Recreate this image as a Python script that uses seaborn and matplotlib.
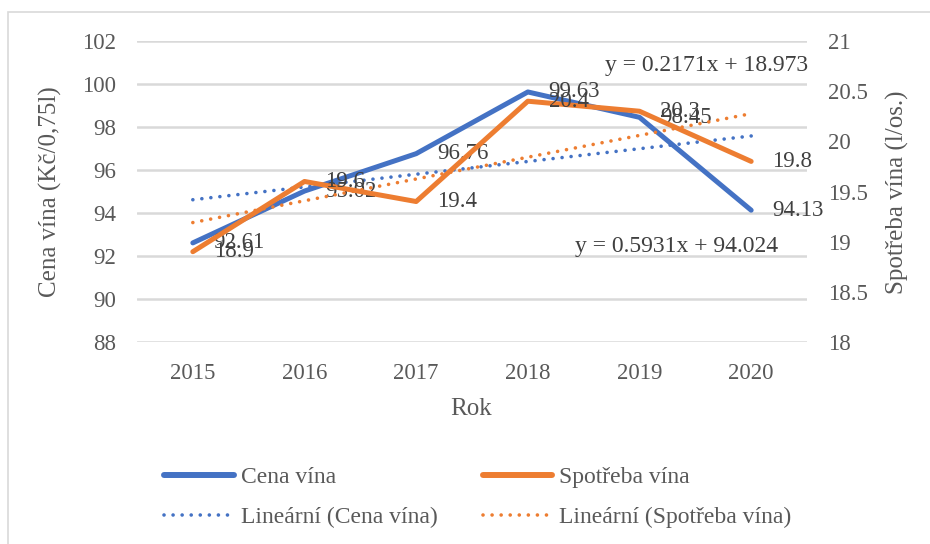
import numpy as np
import pandas as pd
import matplotlib
matplotlib.use("Agg")
import matplotlib.pyplot as plt
import seaborn as sns
from matplotlib.patches import Rectangle
from matplotlib.lines import Line2D

# ---- data ----
years = ["2015", "2016", "2017", "2018", "2019", "2020"]
cena = [92.61, 95.02, 96.76, 99.63, 98.45, 94.13]
spotreba = [18.9, 19.6, 19.4, 20.4, 20.3, 19.8]
cena_labels = ["92.61", "95.02", "96.76", "99.63", "98.45", "94.13"]
spotreba_labels = ["18.9", "19.6", "19.4", "20.4", "20.3", "19.8"]
left_ticks = [88, 90, 92, 94, 96, 98, 100, 102]
right_ticks = [18, 18.5, 19, 19.5, 20, 20.5, 21]
right_tick_labels = ["18", "18.5", "19", "19.5", "20", "20.5", "21"]

sns.set_theme(style="white")
plt.rcParams["font.family"] = ["Liberation Serif", "DejaVu Serif"]

BLUE = "#4472C4"
ORANGE = "#ED7D31"
TXT = "#595959"
GRID = "#D9D9D9"

x = np.arange(len(years))
df = pd.DataFrame({"x": x, "cena": cena, "spotreba": spotreba})

# linear trendlines (least squares, like Excel)
xs = x + 1
pc = np.polyfit(xs, cena, 1)
ps = np.polyfit(xs, spotreba, 1)
df["trend_c"] = np.polyval(pc, xs)
df["trend_s"] = np.polyval(ps, xs)

fig = plt.figure(figsize=(9.3, 5.44), dpi=100)
fig.patch.set_facecolor("white")
fig.patches.append(Rectangle((8 / 930, -0.01), 1.0, 1 - 12 / 544 + 0.01,
                             transform=fig.transFigure, fill=False,
                             edgecolor=GRID, lw=1.2, zorder=0))

ax = fig.add_axes([137 / 930, 1 - 342 / 544, 670 / 930, 301 / 544])
ax2 = ax.twinx()

dot = (0, (0.01, 2.5))
DLW = 2.6
sns.lineplot(data=df, x="x", y="cena", ax=ax, color=BLUE, lw=3.6,
             solid_capstyle="round", legend=False)
sns.lineplot(data=df, x="x", y="trend_c", ax=ax, color=BLUE, lw=DLW,
             linestyle=dot, dash_capstyle="round", legend=False)
sns.lineplot(data=df, x="x", y="spotreba", ax=ax2, color=ORANGE, lw=3.6,
             solid_capstyle="round", legend=False)
sns.lineplot(data=df, x="x", y="trend_s", ax=ax2, color=ORANGE, lw=DLW,
             linestyle=dot, dash_capstyle="round", legend=False)

ax.set_xlim(-0.5, len(years) - 0.5)
ax.set_ylim(88, 102)
ax2.set_ylim(18, 21)
ax.set_xticks(x)
ax.set_xticklabels(years)
ax.set_yticks(left_ticks)
ax.set_yticklabels([str(v) for v in left_ticks])
ax2.set_yticks(right_ticks)
ax2.set_yticklabels(right_tick_labels)

ax.grid(axis="y", color=GRID, lw=1.8)
ax.grid(axis="x", visible=False)
ax2.grid(False)
for a in (ax, ax2):
    for s in a.spines.values():
        s.set_visible(False)
    a.set_facecolor("none")
ax.tick_params(axis="y", length=0, pad=15, labelsize=16.5, labelcolor=TXT)
ax.tick_params(axis="x", length=0, pad=15, labelsize=16.5, labelcolor=TXT)
ax2.tick_params(axis="y", length=0, pad=15, labelsize=16.5, labelcolor=TXT)
ax.set_xlabel("")
ax.set_ylabel("")
ax2.set_ylabel("")

# data labels
for xi, v, t in zip(x, cena, cena_labels):
    ax.annotate(t, (xi, v), xytext=(15, 0), textcoords="offset points",
                ha="left", va="center", fontsize=16.5, color="#404040", zorder=5)
for xi, v, t in zip(x, spotreba, spotreba_labels):
    ax2.annotate(t, (xi, v), xytext=(15, 0), textcoords="offset points",
                 ha="left", va="center", fontsize=16.5, color="#404040", zorder=5)

# trendline equations
ax.text(1.0015, 0.917, f"y = {ps[0]:.4f}x + {ps[1]:.3f}", transform=ax.transAxes,
        ha="right", va="center", fontsize=17, color="#404040")
ax.text(0.805, 0.316, f"y = {pc[0]:.4f}x + {pc[1]:.3f}", transform=ax.transAxes,
        ha="center", va="center", fontsize=17, color="#404040")

# axis titles
fig.text(471 / 930, 1 - 409 / 544, "Rok", ha="center", va="center",
         fontsize=18, color=TXT)
fig.text(50 / 930, 1 - 192 / 544, "Cena vína (Kč/0,75l)", rotation=90,
         ha="center", va="center", fontsize=18, color=TXT)
fig.text(897 / 930, 1 - 192 / 544, "Spotřeba vína (l/os.)", rotation=90,
         ha="center", va="center", fontsize=18, color=TXT)

handles = [
    Line2D([], [], color=BLUE, lw=4.3, solid_capstyle="round"),
    Line2D([], [], color=BLUE, lw=DLW, linestyle=dot, dash_capstyle="round"),
    Line2D([], [], color=ORANGE, lw=4.3, solid_capstyle="round"),
    Line2D([], [], color=ORANGE, lw=DLW, linestyle=dot, dash_capstyle="round"),
]
labels = ["Cena vína", "Lineární (Cena vína)", "Spotřeba vína",
          "Lineární (Spotřeba vína)"]
leg = fig.legend(handles, labels, ncol=2, loc="center",
                 bbox_to_anchor=(478 / 930, 1 - 497.5 / 544), frameon=False,
                 fontsize=17, handlelength=2.95, handletextpad=0.3,
                 columnspacing=1.9, labelspacing=0.8)
for t in leg.get_texts():
    t.set_color(TXT)

fig.savefig("out.png", dpi=100, facecolor="white")
